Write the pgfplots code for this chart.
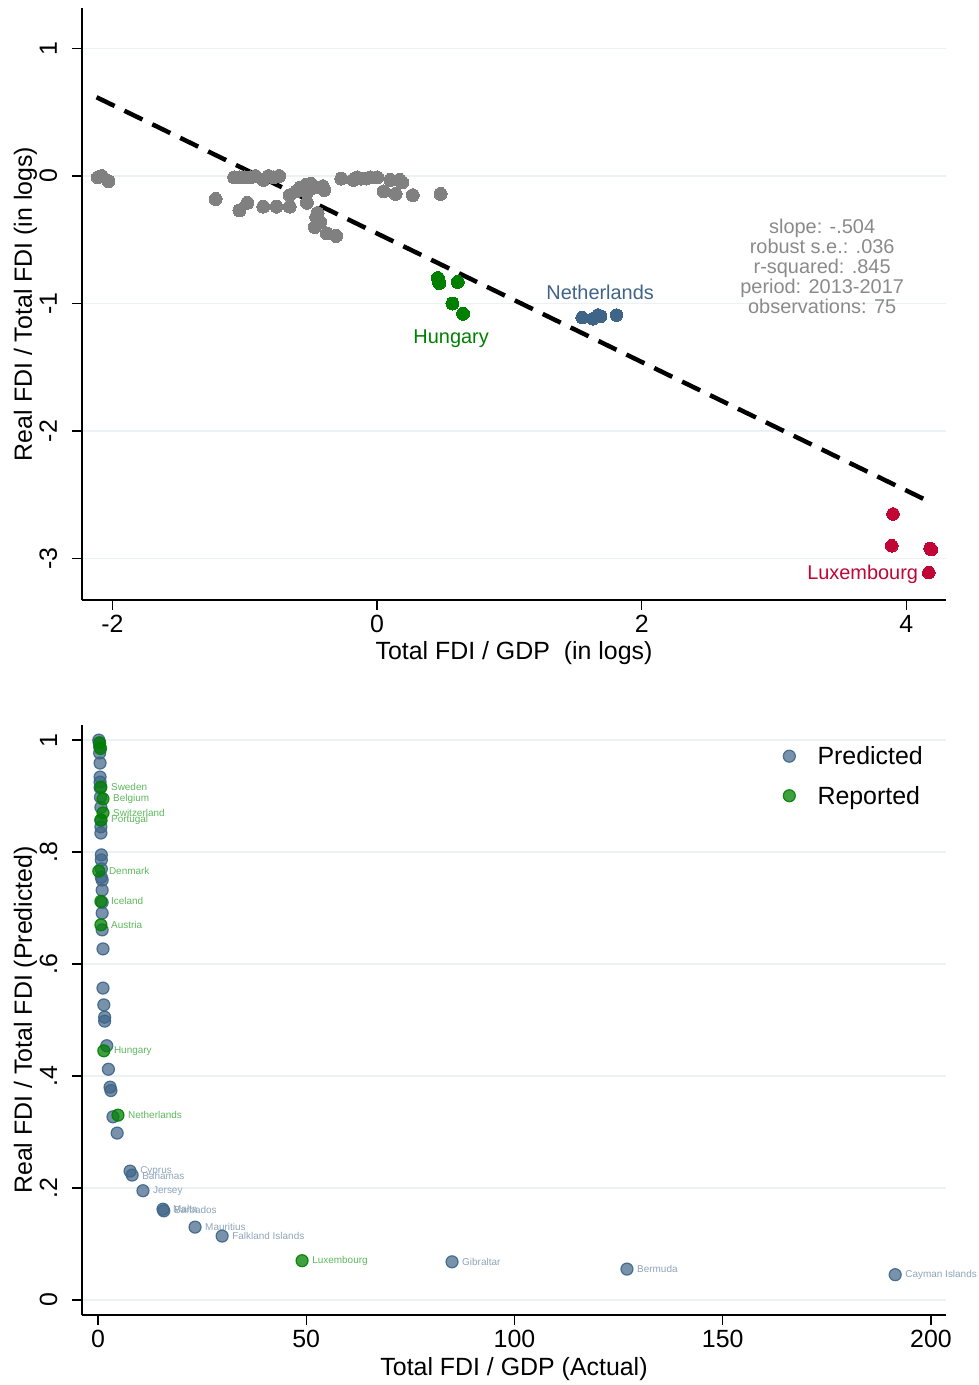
\documentclass[border=0pt]{standalone}
\usepackage{fontspec}
\setmainfont{Liberation Sans}
\usepackage{pgfplots}
\pgfplotsset{compat=1.18}
\definecolor{sgray}{HTML}{808080}
\definecolor{sgreen}{HTML}{008000}
\definecolor{snavy}{HTML}{3E6487}
\definecolor{scran}{HTML}{C10534}
\definecolor{sgrid}{HTML}{EAF2F3}
\definecolor{statgray}{HTML}{8A8A8A}
\definecolor{lblue}{HTML}{8FA4B8}
\definecolor{lgreen}{HTML}{5DB85D}
\newcommand{\fbig}{\fontsize{25}{30}\selectfont}
\newcommand{\fmid}{\fontsize{20}{20}\selectfont}
\newcommand{\fsml}{\fontsize{10}{12}\selectfont}
\pgfplotsset{stata/.style={
  scale only axis, width=864bp,
  axis x line*=bottom, axis y line*=left,
  axis line style={black, line width=1.3bp, -},
  tick align=outside, major tick length=10bp,
  tick style={black, line width=1.3bp},
  ymajorgrids, grid style={sgrid, line width=1.8bp},
  tick label style={font=\fbig},
  xticklabel style={anchor=north, inner sep=0pt},
  yticklabel style={rotate=90, anchor=base, inner sep=0pt},
  xticklabel shift=5bp, yticklabel shift=15bp,
  every axis x label/.style={at={(axis description cs:0.5,0)}, anchor=base, yshift=-60bp, font=\fbig},
  every axis y label/.style={at={(axis description cs:-0.0579,0.5)}, rotate=90, anchor=base, font=\fbig},
  clip=false,
}}
\begin{document}
\begin{tikzpicture}
\useasboundingbox (0,0) rectangle (979bp,1385bp);
% ---------------- top panel ----------------
\begin{axis}[stata, at={(82bp,785bp)}, anchor=south west, height=592bp,
  xmin=-2.23, xmax=4.30, ymin=-3.325, ymax=1.318,
  xtick={-2,0,2,4}, xticklabels={-2,0,2,4},
  ytick={-3,-2,-1,0,1}, yticklabels={-3,-2,-1,0,1},
  xlabel={Total FDI / GDP\ \ (in logs)},
  ylabel={Real FDI / Total FDI (in logs)}]
\addplot[only marks, mark=*, mark size=6.5bp, mark options={draw=sgray, fill=sgray, line width=0pt}] table {
x y
-2.11 -0.01
-2.08 0.00
-2.03 -0.04
-1.22 -0.18
-1.08 -0.01
-1.04 -0.01
-1.00 -0.01
-0.96 -0.01
-0.92 0.00
-0.86 -0.03
-0.82 0.00
-0.78 -0.01
-0.74 0.00
-1.04 -0.27
-0.98 -0.21
-0.86 -0.24
-0.76 -0.24
-0.66 -0.24
-0.66 -0.15
-0.61 -0.12
-0.58 -0.09
-0.54 -0.07
-0.50 -0.06
-0.47 -0.09
-0.41 -0.08
-0.40 -0.11
-0.53 -0.21
-0.53 -0.13
-0.46 -0.32
-0.45 -0.29
-0.43 -0.36
-0.47 -0.40
-0.38 -0.45
-0.31 -0.47
-0.27 -0.02
-0.18 -0.03
-0.15 -0.01
-0.12 -0.02
-0.08 -0.02
-0.05 -0.01
0.00 -0.01
0.10 -0.03
0.17 -0.03
0.19 -0.05
0.05 -0.12
0.14 -0.14
0.27 -0.15
0.48 -0.14
};
\addplot[only marks, mark=*, mark size=6.5bp, mark options={draw=sgreen, fill=sgreen, line width=0pt}] table {
x y
0.46 -0.80
0.47 -0.84
0.61 -0.83
0.57 -1.00
0.65 -1.08
};
\addplot[only marks, mark=*, mark size=6.3bp, mark options={draw=snavy, fill=snavy, line width=0pt}] table {
x y
1.55 -1.11
1.63 -1.12
1.67 -1.09
1.69 -1.10
1.81 -1.09
};
\addplot[only marks, mark=*, mark size=6.3bp, mark options={draw=scran, fill=scran, line width=0pt}] table {
x y
3.90 -2.65
3.89 -2.90
4.18 -2.92
4.19 -2.93
4.17 -3.11
};
\addplot[black, line width=4.5bp, dash pattern=on 20bp off 11bp] coordinates {(-2.12,0.618) (4.16,-2.547)};
\node[font=\fmid, text=snavy, inner sep=0pt] at (axis cs:1.686,-0.91) {Netherlands};
\node[font=\fmid, text=sgreen, inner sep=0pt] at (axis cs:0.56,-1.275) {Hungary};
\node[font=\fmid, text=scran, inner sep=0pt, anchor=east] at (axis cs:4.09,-3.12) {Luxembourg};
\node[font=\fmid, text=statgray, inner sep=0pt, align=center] at (axis cs:3.364,-0.706) {slope: -.504\\robust s.e.: .036\\r-squared: .845\\period: 2013-2017\\observations: 75};
\end{axis}
% ---------------- bottom panel ----------------
\begin{axis}[stata, at={(82bp,70bp)}, anchor=south west, height=590bp,
  xmin=-3.84, xmax=203.6, ymin=-0.027, ymax=1.027,
  xtick={0,50,100,150,200}, xticklabels={0,50,100,150,200},
  ytick={0,0.2,0.4,0.6,0.8,1}, yticklabels={0,.2,.4,.6,.8,1},
  xlabel={Total FDI / GDP (Actual)},
  ylabel={Real FDI / Total FDI (Predicted)},
  legend image code/.code={\path (-14bp,0bp) (28bp,0bp); \draw[#1] plot coordinates {(0bp,0bp)};},
  legend style={at={(axis description cs:0.802,0.964)}, anchor=north west, draw=none, fill=none, font=\fbig, row sep=20bp, inner sep=0pt, nodes={inner sep=0pt}},
  legend cell align=left]
\addplot[only marks, mark=*, mark size=6bp, mark options={draw=snavy, draw opacity=0.9, fill=snavy, fill opacity=0.7, line width=1.2bp}] table {
x y
0.2 1.000
0.3 0.995
0.4 0.988
0.4 0.977
0.5 0.959
0.5 0.934
0.5 0.925
0.5 0.915
0.6 0.898
0.7 0.880
0.7 0.857
0.7 0.845
0.7 0.834
0.8 0.795
0.8 0.786
0.8 0.770
0.8 0.755
1.0 0.750
1.0 0.732
1.0 0.710
1.0 0.691
1.0 0.661
1.2 0.627
1.2 0.557
1.4 0.527
1.6 0.505
1.6 0.498
2.1 0.454
2.5 0.412
2.9 0.380
3.1 0.374
3.6 0.327
4.6 0.298
7.7 0.230
8.2 0.223
10.8 0.195
15.6 0.162
15.8 0.159
23.3 0.130
29.8 0.114
85.0 0.068
127.0 0.055
191.4 0.045
};
\addlegendentry{Predicted}
\addplot[only marks, mark=*, mark size=6bp, mark options={draw=sgreen, draw opacity=0.9, fill=sgreen, fill opacity=0.75, line width=1.2bp}] table {
x y
0.4 0.995
0.6 0.985
0.7 0.916
1.2 0.895
1.2 0.870
0.7 0.857
0.2 0.766
0.7 0.712
0.7 0.670
1.4 0.445
4.8 0.330
49.0 0.070
};
\addlegendentry{Reported}
\begin{scope}[every node/.style={font=\fsml, inner sep=0pt, anchor=west, xshift=10bp}]
\node[text=lgreen] at (axis cs:0.7,0.916) {Sweden};
\node[text=lgreen] at (axis cs:1.2,0.895) {Belgium};
\node[text=lgreen] at (axis cs:1.2,0.870) {Switzerland};
\node[text=lgreen] at (axis cs:0.7,0.857) {Portugal};
\node[text=lgreen] at (axis cs:0.2,0.766) {Denmark};
\node[text=lgreen] at (axis cs:0.7,0.712) {Iceland};
\node[text=lgreen] at (axis cs:0.7,0.670) {Austria};
\node[text=lgreen] at (axis cs:1.4,0.445) {Hungary};
\node[text=lgreen] at (axis cs:4.8,0.330) {Netherlands};
\node[text=lgreen] at (axis cs:49.0,0.070) {Luxembourg};
\node[text=lblue] at (axis cs:7.7,0.230) {Cyprus};
\node[text=lblue] at (axis cs:8.2,0.221) {Bahamas};
\node[text=lblue] at (axis cs:10.8,0.195) {Jersey};
\node[text=lblue] at (axis cs:15.6,0.162) {Malta};
\node[text=lblue] at (axis cs:15.8,0.160) {Barbados};
\node[text=lblue] at (axis cs:23.3,0.130) {Mauritius};
\node[text=lblue] at (axis cs:29.8,0.114) {Falkland Islands};
\node[text=lblue] at (axis cs:85.0,0.068) {Gibraltar};
\node[text=lblue] at (axis cs:127.0,0.055) {Bermuda};
\node[text=lblue] at (axis cs:191.4,0.045) {Cayman Islands};
\end{scope}
\end{axis}
\end{tikzpicture}
\end{document}
